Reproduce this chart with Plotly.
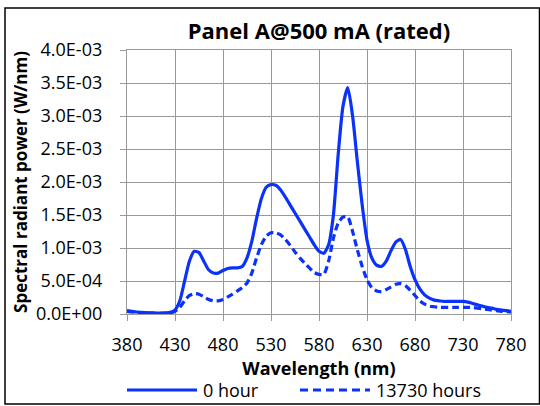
import plotly.graph_objects as go

# ---- data ----
wavelength = list(range(380, 785, 5))

hour0 = [0.05, 0.04, 0.03, 0.025, 0.02, 0.018, 0.015, 0.015, 0.018, 0.025,
         0.06, 0.2, 0.5, 0.8, 0.95, 0.93, 0.8, 0.67, 0.62, 0.62,
         0.66, 0.69, 0.7, 0.7, 0.72, 0.85, 1.1, 1.45, 1.75, 1.92,
         1.96, 1.95, 1.88, 1.77, 1.65, 1.53, 1.41, 1.29, 1.17, 1.05,
         0.95, 0.92, 1.05, 1.5, 2.42, 3.15, 3.43, 3.0, 2.3, 1.65,
         1.12, 0.85, 0.74, 0.72, 0.8, 0.96, 1.09, 1.13, 0.98, 0.72,
         0.52, 0.38, 0.29, 0.24, 0.21, 0.2, 0.19, 0.19, 0.19, 0.19,
         0.19, 0.18, 0.16, 0.14, 0.12, 0.1, 0.09, 0.07, 0.06, 0.05,
         0.04]
hour0 = [v * 1e-3 for v in hour0]

hour13730 = [0.04, 0.03, 0.025, 0.02, 0.015, 0.012, 0.01, 0.01, 0.01, 0.015,
             0.04, 0.1, 0.2, 0.28, 0.31, 0.3, 0.26, 0.22, 0.2, 0.2,
             0.22, 0.26, 0.3, 0.35, 0.4, 0.47, 0.62, 0.85, 1.05, 1.18,
             1.23, 1.23, 1.2, 1.13, 1.04, 0.94, 0.85, 0.77, 0.7, 0.63,
             0.6, 0.6, 0.8, 1.15, 1.38, 1.47, 1.47, 1.25, 0.97, 0.72,
             0.52, 0.4, 0.35, 0.34, 0.37, 0.41, 0.45, 0.46, 0.43, 0.36,
             0.28, 0.2, 0.15, 0.12, 0.11, 0.1, 0.1, 0.1, 0.1, 0.1,
             0.1, 0.1, 0.1, 0.09, 0.08, 0.07, 0.06, 0.05, 0.04, 0.035,
             0.03]
hour13730 = [v * 1e-3 for v in hour13730]

series_names = ["0 hour", "13730 hours"]
x_ticks = [380, 430, 480, 530, 580, 630, 680, 730, 780]
y_ticks = [0, 5e-4, 1e-3, 1.5e-3, 2e-3, 2.5e-3, 3e-3, 3.5e-3, 4e-3]
y_tick_labels = ["0.0E+00", "5.0E-04", "1.0E-03", "1.5E-03", "2.0E-03",
                 "2.5E-03", "3.0E-03", "3.5E-03", "4.0E-03"]

BLUE = "#0A32FA"
FONT = "Open Sans"
GRID = "#999999"

fig = go.Figure()
fig.add_trace(go.Scatter(x=wavelength, y=hour0, mode="lines", name=series_names[0],
                         line=dict(color=BLUE, width=3.2, shape="spline", smoothing=0.6),
                         showlegend=False))
fig.add_trace(go.Scatter(x=wavelength, y=hour13730, mode="lines", name=series_names[1],
                         line=dict(color=BLUE, width=3.2, dash="7px,4px", shape="spline", smoothing=0.6),
                         showlegend=False))

W, H = 540, 406
L, R, T, B = 127, 511, 50, 314
pw, ph = R - L, B - T


def px_to_paper(px, py):
    return (px - L) / pw, (B - py) / ph


# outer border
x0, y0 = px_to_paper(5, 404)
x1, y1 = px_to_paper(539.5, 8)
fig.add_shape(type="rect", xref="paper", yref="paper", x0=x0, y0=y0, x1=x1, y1=y1,
              line=dict(color="black", width=1.5), layer="below")

# manual legend
leg_y = px_to_paper(0, 390)[1]
lx0, _ = px_to_paper(127, 0)
lx1, _ = px_to_paper(197, 0)
fig.add_shape(type="line", xref="paper", yref="paper", x0=lx0, x1=lx1, y0=leg_y, y1=leg_y,
              line=dict(color=BLUE, width=3.2))
tx, _ = px_to_paper(201, 0)
fig.add_annotation(xref="paper", yref="paper", x=tx, y=leg_y, text=series_names[0],
                   showarrow=False, xanchor="left", yanchor="middle",
                   font=dict(family=FONT, size=18, color="black"))
dx0, _ = px_to_paper(300, 0)
dx1, _ = px_to_paper(370, 0)
fig.add_shape(type="line", xref="paper", yref="paper", x0=dx0, x1=dx1, y0=leg_y, y1=leg_y,
              line=dict(color=BLUE, width=3.2, dash="8px,5px"))
tx2, _ = px_to_paper(374, 0)
fig.add_annotation(xref="paper", yref="paper", x=tx2, y=leg_y, text=series_names[1],
                   showarrow=False, xanchor="left", yanchor="middle",
                   font=dict(family=FONT, size=18, color="black"))

fig.update_layout(
    width=W, height=H,
    margin=dict(l=L, r=W - R, t=T, b=H - B, autoexpand=False),
    paper_bgcolor="white", plot_bgcolor="white",
    font=dict(family=FONT, color="black"),
    title=dict(text="<b>Panel A@500 mA (rated)</b>", x=(L + R) / 2 / W, xanchor="center",
               y=1 - 31 / H, yanchor="middle", font=dict(family=FONT, size=22, color="black")),
)
fig.update_xaxes(range=[380, 780], tickvals=x_ticks, ticktext=[str(v) for v in x_ticks],
                 showgrid=True, gridcolor=GRID, gridwidth=1.3,
                 showline=True, linecolor=GRID, linewidth=1.3, mirror=True,
                 ticks="outside", ticklen=6, tickcolor=GRID, tickwidth=1.3,
                 ticklabelstandoff=8, zeroline=False,
                 tickfont=dict(family=FONT, size=18, color="black"),
                 title=dict(text="<b>Wavelength (nm)</b>", standoff=6,
                            font=dict(family=FONT, size=18, color="black")))
fig.update_yaxes(range=[0, 4e-3], tickvals=y_ticks, ticktext=y_tick_labels,
                 showgrid=True, gridcolor=GRID, gridwidth=1.3,
                 showline=True, linecolor=GRID, linewidth=1.3, mirror=True,
                 ticks="outside", ticklen=6, tickcolor=GRID, tickwidth=1.3,
                 ticklabelstandoff=14, zeroline=False,
                 tickfont=dict(family=FONT, size=18, color="black"),
                 title=dict(text="<b>Spectral radiant power (W/nm)</b>", standoff=4,
                            font=dict(family=FONT, size=17, color="black")))

fig.write_html("out.html")
